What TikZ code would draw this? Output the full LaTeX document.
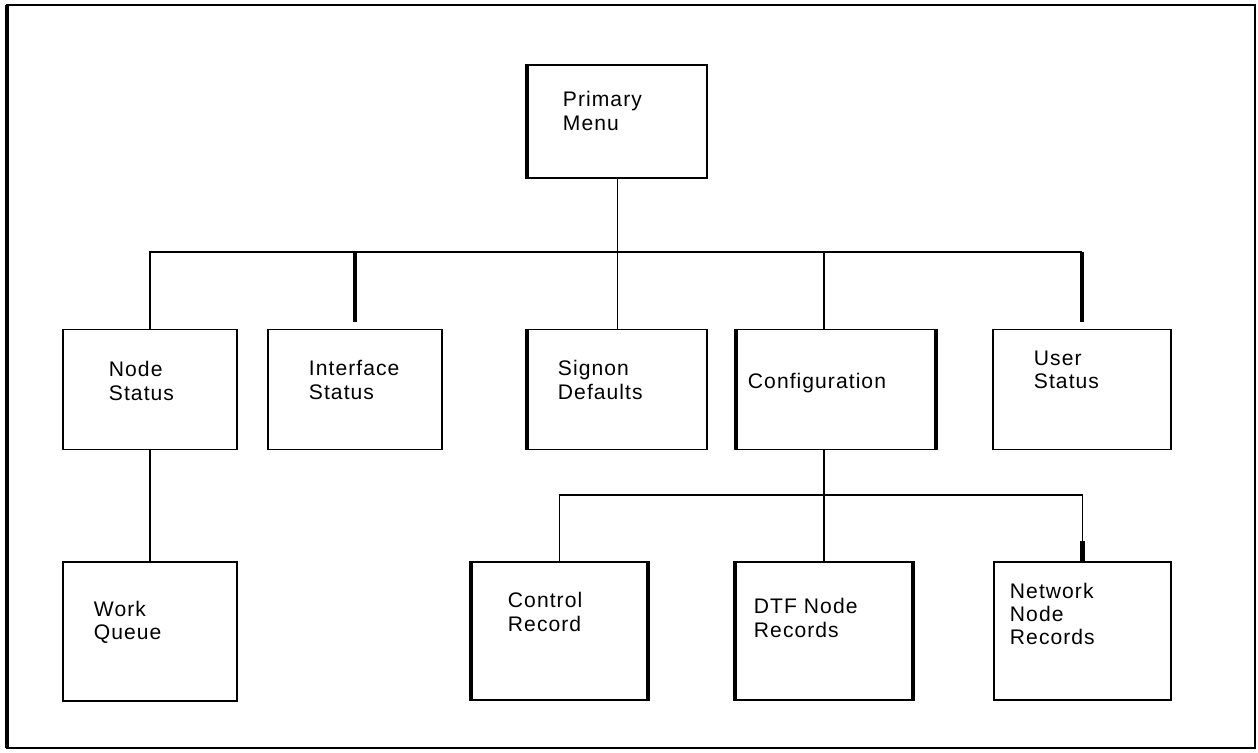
\documentclass[tikz,border=0pt]{standalone}
\usepackage{fontspec}
\newfontfamily\diagfont[LetterSpace=5]{Liberation Sans}
\begin{document}
\begin{tikzpicture}[x=0.02cm,y=-0.02cm,line width=1.1pt,
  menubox/.style args={#1 by #2}{draw,rectangle,inner sep=0pt,
    minimum width=#1*0.02cm,minimum height=#2*0.02cm},
  menutext/.style={anchor=west,align=left,inner sep=0pt,
    font=\diagfont\fontsize{12}{13.2}\selectfont},
  thickedge/.style={line width=2.6pt}]
\useasboundingbox (0,0) rectangle (1258,752);
\draw (7,5) rectangle (1255,748);
\draw[line width=1.8pt] (7,5) -- (7,748);
% top level
\node[menubox=179 by 113] (primary) at (617.5,121.5) {};
% second row
\node[menubox=174 by 120] (nodest) at (150,389.5) {};
\node[menubox=174 by 120] (ifacest) at (355,389.5) {};
\node[menubox=179 by 120] (signon) at (617.5,389.5) {};
\node[menubox=198 by 120] (config) at (836,389.5) {};
\node[menubox=178 by 120] (userst) at (1082,389.5) {};
% third row
\node[menubox=174 by 139] (workq) at (150,631.5) {};
\node[menubox=175 by 138] (control) at (559.5,631) {};
\node[menubox=176 by 138] (dtf) at (824,631) {};
\node[menubox=177 by 138] (network) at (1082.5,631) {};
% heavy sides
\draw[thickedge] (primary.north west) -- (primary.south west);
\draw[thickedge] (signon.north west) -- (signon.south west);
\draw[thickedge] (config.north west) -- (config.south west);
\draw[thickedge] (config.north east) -- (config.south east);
\draw[thickedge] (control.north west) -- (control.south west);
\draw[thickedge] (control.north east) -- (control.south east);
\draw[thickedge] (dtf.north west) -- (dtf.south west);
\draw[thickedge] (dtf.north east) -- (dtf.south east);
% texts
\node[menutext] (primaryt) at (562,111) {Primary\\Menu};
\node[menutext] (nodestt) at (108,381) {Node\\Status};
\node[menutext] (ifacestt) at (308,380) {Interface\\Status};
\node[menutext] (signont) at (557,380) {Signon\\Defaults};
\node[menutext] (configt) at (747,383) {Configuration};
\node[menutext] (userstt) at (1033,370) {User\\Status};
\node[menutext] (workqt) at (93,622) {Work\\Queue};
\node[menutext] (controlt) at (507,612) {Control\\Record};
\node[menutext] (dtft) at (753,618) {DTF Node\\Records};
\node[menutext] (networkt) at (1009,614) {Network\\Node\\Records};
% first bus
\coordinate (bus1) at (617,252);
\draw (primary.south) -- (signon.north);
\draw (nodest.north) |- (bus1) -- (bus1 -| userst.north);
\draw[thickedge] (bus1 -| ifacest.north) -- ++(0,70);
\draw[thickedge] (bus1 -| userst.north) -- ++(0,70);
\draw (bus1 -| dtf.north) -- (config.north -| dtf.north);
\draw (nodest.south) -- (workq.north);
% second bus
\coordinate (bus2) at (824,495);
\draw (config.south -| dtf.north) -- (dtf.north);
\draw (control.north) |- (bus2) -| (network.north);
\draw[thickedge] (network.north) -- ++(0,-20);
\end{tikzpicture}
\end{document}
